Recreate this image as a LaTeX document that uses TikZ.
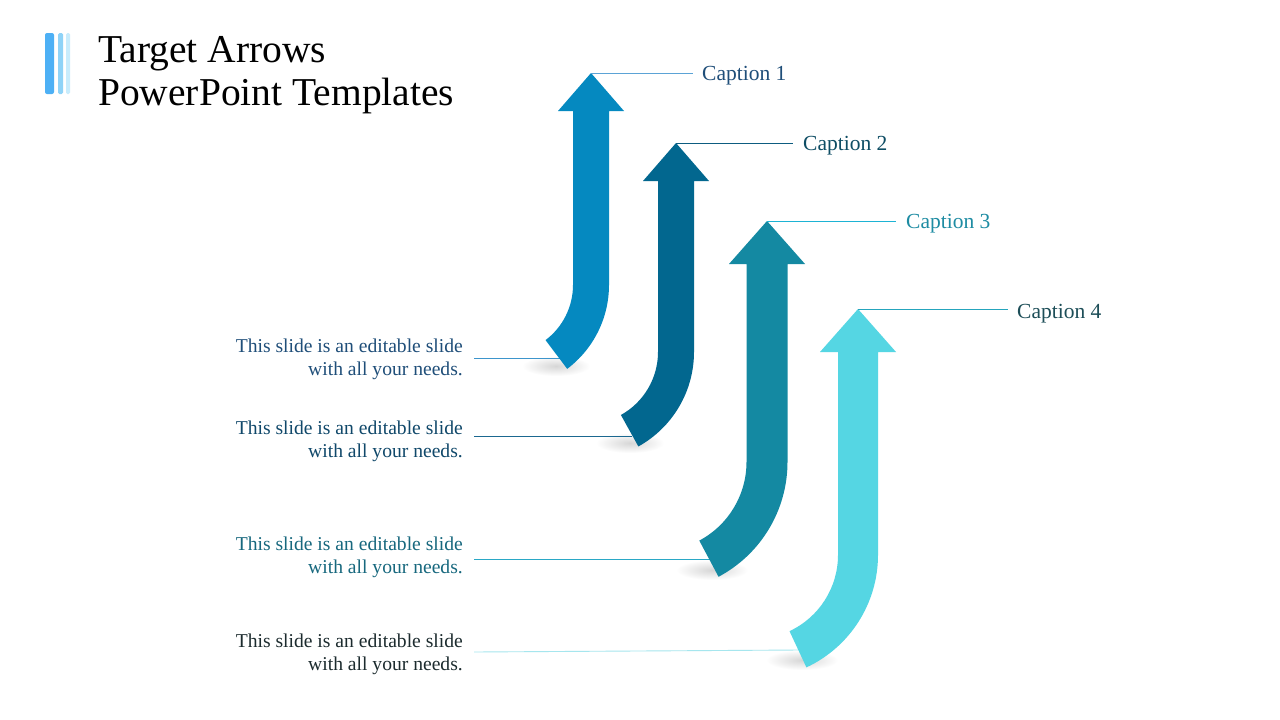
\documentclass[tikz,border=0pt]{standalone}
\usepackage{fontspec}
\setmainfont{Liberation Serif}
\definecolor{arA}{HTML}{0589C0}
\definecolor{arB}{HTML}{02678F}
\definecolor{arC}{HTML}{1489A2}
\definecolor{arD}{HTML}{55D6E3}
\definecolor{capA}{HTML}{1F4E79}
\definecolor{capB}{HTML}{0E4D64}
\definecolor{capC}{HTML}{1E8CA3}
\definecolor{capD}{HTML}{1D4E58}
\definecolor{txA}{HTML}{1F4E79}
\definecolor{txB}{HTML}{10486A}
\definecolor{txC}{HTML}{17687E}
\definecolor{txD}{HTML}{1C2B2E}
\definecolor{lnA}{HTML}{5BA3D6}
\definecolor{lnB}{HTML}{0D5C80}
\definecolor{lnC}{HTML}{1DB3D4}
\definecolor{lnD}{HTML}{25A5BD}
\definecolor{llA}{HTML}{3D95CC}
\definecolor{llB}{HTML}{1B6890}
\definecolor{llC}{HTML}{2AA8C6}
\definecolor{llD}{HTML}{A6E6EE}
\definecolor{barA}{HTML}{4DB0F5}
\definecolor{barB}{HTML}{8FD3F7}
\definecolor{barC}{HTML}{C8ECFC}
\newcommand\bentarrow[9]{%
  \pgfmathsetmacro\shw{2*#5}%
  \pgfmathsetmacro\rin{#7-2*#5}%
  \fill[#9] (#1,#2) -- (#1+#3,#4) -- (#1+#5,#4) -- (#1+#5,#6)
    arc[start angle=0,end angle=-#8,radius=#7 pt]
    -- ++({-\shw*cos(#8)},{-\shw*sin(#8)})
    arc[start angle=-#8,end angle=0,radius=\rin pt]
    -- (#1-#5,#4) -- (#1-#3,#4) -- cycle;}
\tikzset{
  caption/.style={anchor=base west,inner sep=0pt,font=\fontsize{21.5}{25}\selectfont},
  desc/.style={anchor=north east,inner sep=0pt,align=right,font=\fontsize{19.6}{23}\selectfont},
  title/.style={anchor=base west,inner sep=0pt,font=\fontsize{39.5}{45}\selectfont},
  lead/.style={line width=0.9pt},
  shadowblob/.style={inner color=black!16,outer color=white}
}
\begin{document}
\begin{tikzpicture}[x=1pt,y=-1pt]
\useasboundingbox[fill=white] (0,0) rectangle (1280,720);
% title bars
\fill[barA,rounded corners=2pt] (45,33) rectangle (54,94);
\fill[barB,rounded corners=1.5pt] (58,33) rectangle (63,94);
\fill[barC,rounded corners=1.5pt] (66,33) rectangle (70,94);
\node[title] (t1) at (98,62) {Target Arrows};
\node[title] (t2) at (98,105) {PowerPoint Templates};
% shadows
\shade[shadowblob] (556,366) ellipse[x radius=34pt,y radius=10pt];
\shade[shadowblob] (630,443) ellipse[x radius=34pt,y radius=10pt];
\shade[shadowblob] (712,570) ellipse[x radius=36pt,y radius=10pt];
\shade[shadowblob] (802,660) ellipse[x radius=36pt,y radius=10pt];
% left descriptions
\node[desc,text=txA] (d1) at (463,338.5) {This slide is an editable slide\\with all your needs.};
\node[desc,text=txB] (d2) at (463,420.5) {This slide is an editable slide\\with all your needs.};
\node[desc,text=txC] (d3) at (463,536.5) {This slide is an editable slide\\with all your needs.};
\node[desc,text=txD] (d4) at (463,633.5) {This slide is an editable slide\\with all your needs.};
\coordinate (e1) at (560,358);
\coordinate (e2) at (632,436);
\coordinate (e3) at (710,559);
\coordinate (e4) at (800,650);
\draw[lead,llA] (474,358) -- (e1);
\draw[lead,llB] (474,436) -- (e2);
\draw[lead,llC] (474,559) -- (e3);
\draw[lead,llD] (474,652) -- (e4);
% arrows
\bentarrow{591}{73}{33}{111}{18}{285}{105}{53}{arA}
\bentarrow{676}{143}{33}{181}{18}{352}{108}{61}{arB}
\bentarrow{767}{221}{38}{264}{20.5}{462}{130}{62}{arC}
\bentarrow{858}{309}{38}{352}{20}{555}{124}{65}{arD}
% tips and captions
\coordinate (p1) at (591,73);
\coordinate (p2) at (676,143);
\coordinate (p3) at (767,221);
\coordinate (p4) at (858,309);
\node[caption,text=capA] (c1) at (702,80) {Caption 1};
\node[caption,text=capB] (c2) at (803,150) {Caption 2};
\node[caption,text=capC] (c3) at (906,228) {Caption 3};
\node[caption,text=capD] (c4) at (1017,318) {Caption 4};
\draw[lead,lnA] (p1) -- ([xshift=-9pt]p1 -| c1.west);
\draw[lead,lnB] (p2) -- ([xshift=-10pt]p2 -| c2.west);
\draw[lead,lnC] (p3) -- ([xshift=-10pt]p3 -| c3.west);
\draw[lead,lnD] (p4) -- ([xshift=-9pt]p4 -| c4.west);
\end{tikzpicture}
\end{document}
